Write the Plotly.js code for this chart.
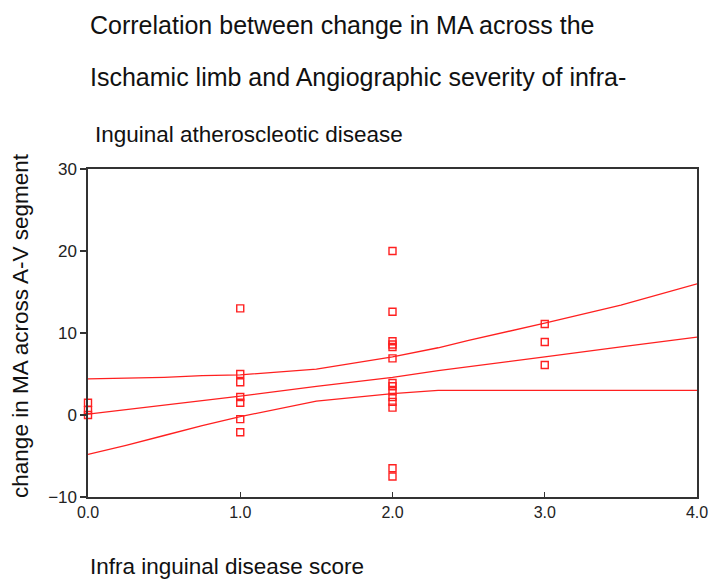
<!DOCTYPE html>
<html>
<head>
<meta charset="utf-8">
<script src="https://cdn.plot.ly/plotly-3.0.1.min.js"></script>
<style>html,body{margin:0;padding:0;background:#fff;}#chart{width:709px;height:580px;}</style>
</head>
<body>
<div id="chart"></div>
<script>
// Observed points
const scoreX = [0, 0, 0,
  1, 1, 1, 1, 1, 1, 1,
  2, 2, 2, 2, 2, 2, 2, 2, 2, 2, 2, 2, 2, 2,
  3, 3, 3];
const changeMA = [1.5, 0.6, 0,
  13.0, 5.0, 4.0, 2.2, 1.5, -0.5, -2.1,
  20.0, 12.6, 9.0, 8.6, 8.3, 6.9, 3.9, 3.5, 2.9, 2.2, 1.6, 0.9, -6.5, -7.5,
  11.1, 8.9, 6.1];

// Fit line and confidence band
const lineX = [0, 0.25, 0.5, 0.75, 1, 1.5, 2, 2.3, 2.5, 3, 3.5, 4];
const fitY = [0.1, 0.65, 1.2, 1.75, 2.3, 3.5, 4.6, 5.4, 5.9, 7.1, 8.3, 9.5];
const upperY = [4.4, 4.5, 4.6, 4.8, 4.9, 5.6, 7.1, 8.2, 9.1, 11.2, 13.4, 16.0];
const lowerY = [-4.8, -3.7, -2.5, -1.3, -0.2, 1.7, 2.6, 3.0, 3.0, 3.0, 3.0, 3.0];

const RED = '#ff2020';
const lineStyle = {color: RED, width: 1.3};

const traces = [
  {x: lineX, y: upperY, type: 'scatter', mode: 'lines', line: lineStyle, hoverinfo: 'skip'},
  {x: lineX, y: fitY, type: 'scatter', mode: 'lines', line: lineStyle, hoverinfo: 'skip'},
  {x: lineX, y: lowerY, type: 'scatter', mode: 'lines', line: lineStyle, hoverinfo: 'skip'},
  {x: scoreX, y: changeMA, type: 'scatter', mode: 'markers', cliponaxis: false,
   marker: {symbol: 'square-open', size: 7, color: RED, line: {width: 1.4, color: RED}}}
];

const FONT = 'Arial, "Liberation Sans", sans-serif';
const layout = {
  width: 709, height: 580,
  margin: {l: 88, r: 12, t: 169, b: 83},
  paper_bgcolor: '#fff', plot_bgcolor: '#fff',
  showlegend: false,
  font: {family: FONT, color: '#222'},
  xaxis: {
    range: [0, 4], dtick: 1, tick0: 0, tickformat: '.1f',
    ticks: 'inside', ticklen: 5, tickcolor: '#333', tickwidth: 1.2,
    showline: true, linecolor: '#333', linewidth: 1.6, mirror: true,
    showgrid: false, zeroline: false,
    tickfont: {size: 16, family: FONT, color: '#222'}
  },
  yaxis: {
    range: [-10, 30], dtick: 10, tick0: -10,
    ticks: 'outside', ticklen: 6, tickcolor: '#333', tickwidth: 1.2,
    showline: true, linecolor: '#333', linewidth: 1.6, mirror: true,
    showgrid: false, zeroline: false,
    tickfont: {size: 17, family: FONT, color: '#222'}
  },
  annotations: [
    {text: 'Correlation between change in MA across the', xref: 'paper', yref: 'paper',
     x: 0, y: 1.439, xanchor: 'left', yanchor: 'middle', showarrow: false,
     font: {size: 25, family: FONT, color: '#111'}},
    {text: 'Ischamic limb and Angiographic severity of infra-', xref: 'paper', yref: 'paper',
     x: 0, y: 1.280, xanchor: 'left', yanchor: 'middle', showarrow: false,
     font: {size: 25, family: FONT, color: '#111'}},
    {text: 'Inguinal atheroscleotic disease', xref: 'paper', yref: 'paper',
     x: 0.008, y: 1.104, xanchor: 'left', yanchor: 'middle', showarrow: false,
     font: {size: 22.5, family: FONT, color: '#111'}},
    {text: 'Infra inguinal disease score', xref: 'paper', yref: 'paper',
     x: 0, y: -0.213, xanchor: 'left', yanchor: 'middle', showarrow: false,
     font: {size: 22.5, family: FONT, color: '#111'}},
    {text: 'change in MA across A-V segment', xref: 'paper', yref: 'paper',
     x: -0.112, y: 0.524, xanchor: 'center', yanchor: 'middle', textangle: -90, showarrow: false,
     font: {size: 22.5, family: FONT, color: '#111'}}
  ]
};

Plotly.newPlot('chart', traces, layout, {displayModeBar: false, staticPlot: true});
</script>
</body>
</html>
